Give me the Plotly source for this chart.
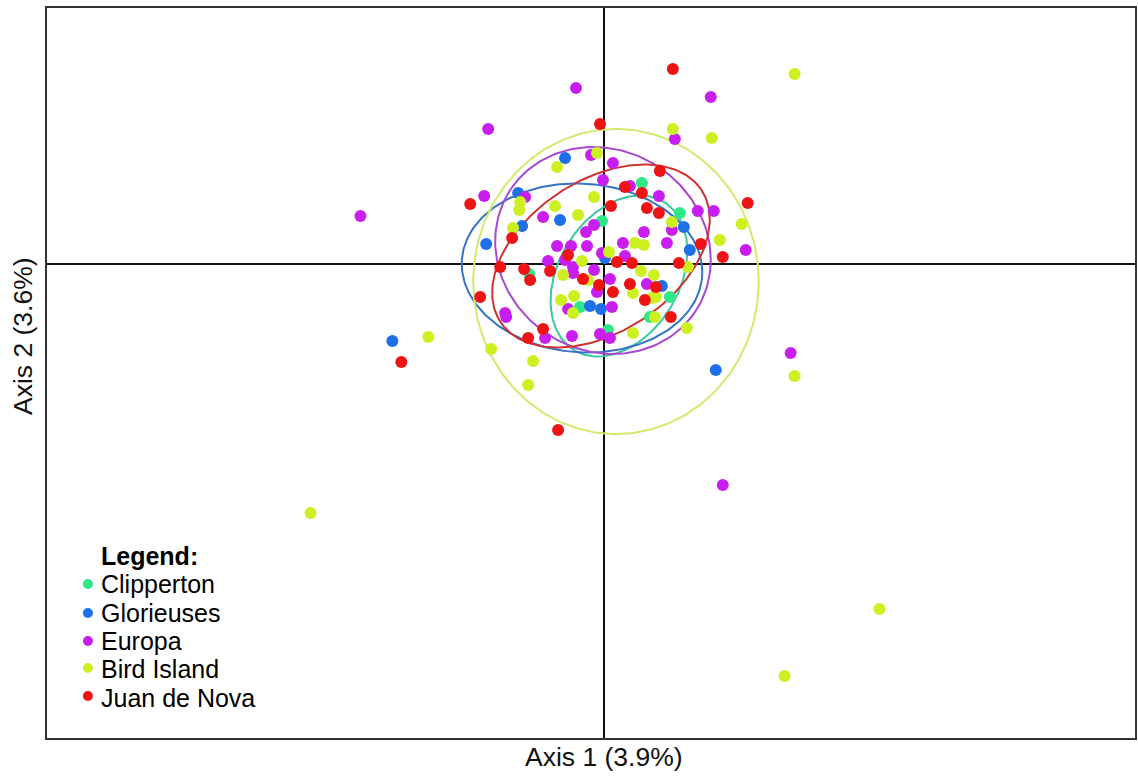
import numpy as np
import plotly.graph_objects as go

# ---------------- data ----------------
groups = ["Clipperton", "Glorieuses", "Europa", "Bird Island", "Juan de Nova"]

clipperton_x = [0.38, 0.76, -0.02, -0.75, -0.24, 0.46, 0.66, 0.04]
clipperton_y = [0.81, 0.51, 0.43, -0.10, -0.43, -0.53, -0.33, -0.66]

glorieuses_x = [-0.39, -0.86, -0.44, -0.82, -1.18, 0.80, 0.86, 0.01, 0.58, -0.14, -0.03, -2.12, 1.12]
glorieuses_y = [1.06, 0.71, 0.44, 0.38, 0.20, 0.37, 0.14, 0.06, -0.22, -0.42, -0.45, -0.77, -1.06]

europa_x = [-0.28, 1.07, -1.16, 0.71, -0.13, 0.09, -1.20, -0.79, -2.44, 0.26, -0.01, 0.55, -0.61,
            0.94, 1.10, -0.10, -0.18, 0.40, 0.68, 0.63, 1.42, -0.47, -0.33, -0.17, 0.19, -0.02,
            0.21, -0.56, -0.39, -0.31, -0.31, -0.10, 0.06, 0.43, -0.07, 0.08, -0.36, -0.99, -0.98,
            -0.59, -0.32, -0.04, 0.06, 1.87, 1.19]
europa_y = [1.76, 1.67, 1.35, 1.25, 1.09, 1.01, 0.68, 0.67, 0.48, 0.78, 0.84, 0.68, 0.47,
            0.53, 0.53, 0.39, 0.32, 0.32, 0.34, 0.21, 0.14, 0.18, 0.18, 0.18, 0.21, 0.11,
            0.08, 0.03, 0.04, -0.03, -0.09, -0.06, -0.15, -0.20, -0.28, -0.43, -0.45, -0.49, -0.53,
            -0.74, -0.72, -0.70, -0.74, -0.89, -2.21]

bird_x = [1.91, 0.69, 1.08, -0.07, -0.47, -0.10, -0.49, -0.26, -0.85, -0.84, 1.38, 1.16, 0.31,
          0.40, -0.91, -0.22, 0.84, -0.41, -0.16, 0.37, 0.50, -0.43, -0.30, 0.29, 0.48, 0.52,
          -0.31, 0.51, 0.29, 0.83, -1.13, -1.76, -0.71, -0.76, 1.91, -2.94, 2.76, 1.81, 0.68, 0.05]
bird_y = [1.90, 1.35, 1.26, 1.11, 0.97, 0.67, 0.58, 0.49, 0.54, 0.62, 0.40, 0.24, 0.21,
          0.19, 0.36, 0.03, -0.03, -0.11, -0.16, -0.07, -0.11, -0.36, -0.32, -0.29, -0.34, -0.33,
          -0.49, -0.53, -0.69, -0.64, -0.85, -0.73, -0.97, -1.21, -1.12, -2.49, -3.45, -4.12, 0.42, 0.12]

juan_x = [0.69, -0.04, 0.56, 0.21, 0.38, 0.07, -1.34, 1.44, 0.43, 0.55, -0.92, 0.97, 1.19, -0.36,
          0.13, 0.28, 0.75, -1.04, -0.80, -0.54, -0.74, -0.21, 0.26, 0.52, -0.05, 0.09, -1.24,
          0.41, 0.67, -0.61, -0.76, -2.03, -0.46]
juan_y = [1.95, 1.40, 0.93, 0.77, 0.71, 0.58, 0.60, 0.61, 0.56, 0.51, 0.26, 0.20, 0.07, 0.09,
          0.02, 0.01, 0.01, -0.03, -0.05, -0.07, -0.16, -0.15, -0.20, -0.23, -0.21, -0.28, -0.33,
          -0.36, -0.53, -0.65, -0.74, -0.98, -1.66]

# ellipse parameters per group: centre, x half-extent, y half-extent, covariance term
ell_cx = [0.15, -0.22, -0.01, 0.12, -0.03]
ell_cy = [-0.12, -0.04, 0.135, -0.175, 0.08]
ell_sx = [0.685, 1.205, 1.08, 1.43, 1.09]
ell_sy = [0.805, 0.845, 1.035, 1.525, 0.915]
ell_sxy = [0.17, -0.05, -0.10, 0.0, 0.40]

x_title = "Axis 1 (3.9%)"
y_title = "Axis 2 (3.6%)"
legend_title = "Legend:"

# ---------------- styles ----------------
point_colors = ["#2EE887", "#1E6FEA", "#C81EF0", "#CCF020", "#EE1414"]
ellipse_colors = ["#3CC6A2", "#3474C6", "#A848D2", "#D2EA6E", "#CC3434"]

xs = [clipperton_x, glorieuses_x, europa_x, bird_x, juan_x]
ys = [clipperton_y, glorieuses_y, europa_y, bird_y, juan_y]

FONT = "Liberation Sans"
TXT = "#111111"

W, H = 1138, 776
ML, MR, MT, MB = 47, 1, 8, 38
PL, PT = ML, MT
PW, PH = W - ML - MR, H - MT - MB


def px_to_paper(px, py):
    return (px - PL) / PW, (PT + PH - py) / PH


fig = go.Figure()

t = np.linspace(0, 2 * np.pi, 241)
circle = np.vstack([np.cos(t), np.sin(t)])
for i, g in enumerate(groups):
    C = np.array([[ell_sx[i] ** 2, ell_sxy[i]], [ell_sxy[i], ell_sy[i] ** 2]])
    L = np.linalg.cholesky(C)
    pts = L @ circle
    fig.add_trace(go.Scatter(
        x=ell_cx[i] + pts[0], y=ell_cy[i] + pts[1], mode="lines",
        line=dict(color=ellipse_colors[i], width=2), showlegend=False,
        hoverinfo="skip"))

for i, g in enumerate(groups):
    fig.add_trace(go.Scatter(
        x=xs[i], y=ys[i], mode="markers", name=g, showlegend=False,
        marker=dict(color=point_colors[i], size=12, line=dict(width=0))))

annotations = [
    dict(text=x_title, xref="x", x=0, yref="paper", y=0, yshift=-19,
         xanchor="center", yanchor="middle", showarrow=False,
         font=dict(size=26.5, family=FONT, color=TXT)),
    dict(text=y_title, xref="paper", x=0, xshift=-24, yref="paper",
         y=px_to_paper(0, 336)[1],
         xanchor="center", yanchor="middle", showarrow=False, textangle=-90,
         font=dict(size=26.5, family=FONT, color=TXT)),
]
shapes = []

# legend block (bottom-left, inside the plot box): one text block, tight line spacing
LEG_SIZE = 25
lines = ["<b><span style='font-size:%spx'>%s</span></b>" % (LEG_SIZE, legend_title)]
lines += ["<span style='font-size:%spx'>%s</span>" % (LEG_SIZE, g) for g in groups]
lx, ly = px_to_paper(99, 627)
annotations.append(dict(text="<br>".join(lines), xref="paper", yref="paper",
                        x=lx, y=ly, xanchor="left", yanchor="middle", align="left",
                        showarrow=False,
                        font=dict(size=21.8, family=FONT, color="#000000")))
row_px = [584, 613, 641, 668, 696]
for i, g in enumerate(groups):
    dx, dy = px_to_paper(88, row_px[i])
    shapes.append(dict(type="circle", xref="paper", yref="paper",
                       xsizemode="pixel", ysizemode="pixel",
                       xanchor=dx, yanchor=dy, x0=-5, x1=5, y0=-5, y1=5,
                       fillcolor=point_colors[i], line=dict(width=0)))

fig.update_layout(
    width=W, height=H,
    margin=dict(l=ML, r=MR, t=MT, b=MB, pad=0),
    paper_bgcolor="white", plot_bgcolor="white",
    font=dict(family=FONT, color=TXT),
    showlegend=False,
    xaxis=dict(range=[-5.58, 5.32], showgrid=False, zeroline=True, zerolinecolor="#111111",
               zerolinewidth=1.5, showticklabels=False, ticks="", showline=True,
               linecolor="#333333", linewidth=1.5, mirror=True),
    yaxis=dict(range=[-4.74, 2.56], showgrid=False, zeroline=True, zerolinecolor="#111111",
               zerolinewidth=1.5, showticklabels=False, ticks="", showline=True,
               linecolor="#333333", linewidth=1.5, mirror=True),
    annotations=annotations,
    shapes=shapes,
)

fig.write_html("out.html", config={"displayModeBar": False},
               post_script="document.body.style.margin='0';document.body.style.overflow='hidden';")
